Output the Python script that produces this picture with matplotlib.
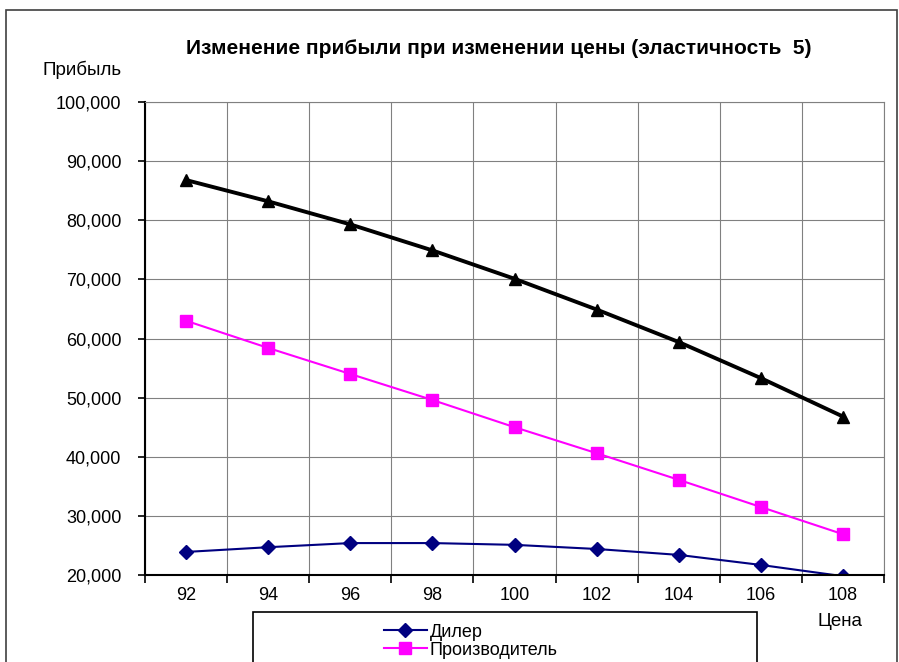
import matplotlib
matplotlib.use('Agg')
from matplotlib import pyplot as plt
from matplotlib.patches import Rectangle
from matplotlib.ticker import FuncFormatter, FixedLocator
import numpy as np

plt.rcParams['font.family'] = ['Liberation Sans', 'DejaVu Sans']

prices = [92, 94, 96, 98, 100, 102, 104, 106, 108]
dealer = [23900, 24700, 25400, 25400, 25100, 24400, 23400, 21700, 19800]
producer = [63000, 58400, 54000, 49600, 45000, 40600, 36100, 31500, 26900]
total = [86800, 83200, 79300, 74900, 70100, 64900, 59400, 53300, 46800]

fig = plt.figure(figsize=(8.99, 6.62), dpi=100)
ax = fig.add_axes([145/899, 1 - 575/662, (884-145)/899, (575-102)/662])

x = np.arange(len(prices))
ax.plot(x, dealer, color='#000080', lw=1.5, marker='D', ms=7, label='Дилер')
ax.plot(x, producer, color='#FF00FF', lw=1.5, marker='s', ms=9, label='Производитель')
ax.plot(x, total, color='black', lw=2.8, marker='^', ms=9)

ax.set_xlim(-0.5, len(prices) - 0.5)
ax.set_ylim(20000, 100000)
ax.set_yticks(np.arange(20000, 100001, 10000))
ax.yaxis.set_major_formatter(FuncFormatter(lambda v, p: '{:,.0f}'.format(v)))
ax.set_xticks(x)
ax.set_xticklabels([str(p) for p in prices])
ax.xaxis.set_minor_locator(FixedLocator(np.arange(-0.5, len(prices), 1.0)))
ax.tick_params(axis='x', which='major', length=0, pad=9, labelsize=13)
ax.tick_params(axis='x', which='minor', length=6, width=1.2, direction='out')
ax.tick_params(axis='y', length=5, width=1.2, direction='out', labelsize=13, pad=12)

ax.grid(True, axis='y', color='#808080', lw=0.8)
ax.grid(True, axis='x', which='minor', color='#808080', lw=0.8)
ax.set_axisbelow(True)
for s in ['top', 'right']:
    ax.spines[s].set_color('#808080')
    ax.spines[s].set_linewidth(0.8)
for s in ['left', 'bottom']:
    ax.spines[s].set_color('black')
    ax.spines[s].set_linewidth(1.5)

fig.text(499/899, 1 - 48/662, 'Изменение прибыли при изменении цены (эластичность  5)',
         ha='center', va='center', fontsize=15, fontweight='bold')
fig.text(82/899, 1 - 70/662, 'Прибыль', ha='center', va='center', fontsize=13.5)
fig.text(840/899, 1 - 622/662, 'Цена', ha='center', va='center', fontsize=13.5)

# outer chart border and legend box (cut off at the bottom like the source)
fig.patches.append(Rectangle((6/899, -0.05), (897-6)/899, 1.05 - 10/662,
                             transform=fig.transFigure, fill=False, ec='#404040', lw=1.2))
fig.patches.append(Rectangle((253/899, -0.05), (757-253)/899, 0.05 + (662-612)/662,
                             transform=fig.transFigure, fill=False, ec='black', lw=1.2))
fig.legend(loc='upper left', bbox_to_anchor=(372/899, 1 - 612/662), frameon=False,
           fontsize=13, handlelength=2.4, labelspacing=0.05, borderpad=0.15, handletextpad=0.15)

plt.savefig('out.png', dpi=100)
